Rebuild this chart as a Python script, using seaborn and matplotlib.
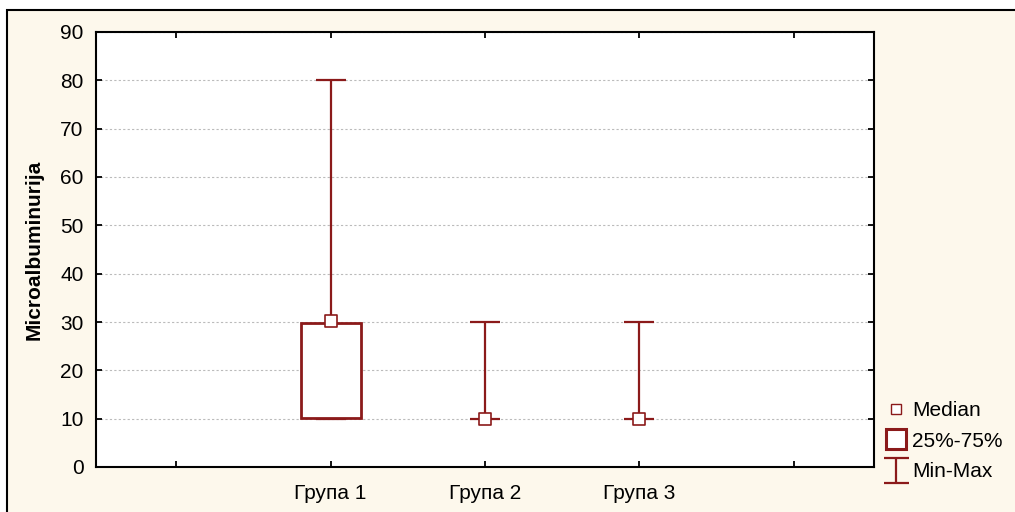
import matplotlib
matplotlib.use("Agg")
import matplotlib.pyplot as plt
import seaborn as sns
import pandas as pd
import numpy as np
from matplotlib.patches import Rectangle
from matplotlib.lines import Line2D
from matplotlib.path import Path

# ---- data ----
groups = ["Група 1", "Група 2", "Група 3"]
medians = [30.3, 10.0, 10.0]
q1 = [10.2, 10.0, 10.0]
q3 = [29.8, 10.0, 10.0]
mins = [10.0, 10.0, 10.0]
maxs = [80.0, 30.0, 30.0]
xtick_labels = ["", "Група 1", "Група 2", "Група 3", ""]
yticks = [0, 10, 20, 30, 40, 50, 60, 70, 80, 90]

RED = "#8B1A1A"
BG = "#FDF8EC"

sns.set_style("white")
plt.rcParams["font.family"] = ["Liberation Sans", "DejaVu Sans"]
plt.rcParams["text.color"] = "black"
plt.rcParams["xtick.color"] = "black"
plt.rcParams["ytick.color"] = "black"
plt.rcParams["axes.labelcolor"] = "black"

FS = 15

fig = plt.figure(figsize=(10.15, 5.12), dpi=100)
fig.patch.set_facecolor("white")
fig.patches.append(Rectangle((7 / 1015, -0.05), 1.1, (512 - 10) / 512 + 0.05,
                             transform=fig.transFigure, facecolor=BG,
                             edgecolor="black", linewidth=1.5, zorder=-10))

ax = fig.add_axes([96 / 1015, (512 - 467) / 512, (874 - 96) / 1015, (467 - 32) / 512])
ax.set_facecolor("white")

df = pd.DataFrame({"group": groups, "pos": [1, 2, 3], "median": medians,
                   "q1": q1, "q3": q3, "min": mins, "max": maxs})

box_w = 0.39
cap_w = 0.195
for _, r in df.iterrows():
    x = r["pos"]
    ax.vlines(x, r["min"], r["max"], color=RED, linewidth=1.6, zorder=3)
    ax.hlines([r["min"], r["max"]], x - cap_w / 2, x + cap_w / 2, color=RED, linewidth=1.6, zorder=3)
    if r["q3"] > r["q1"]:
        ax.add_patch(Rectangle((x - box_w / 2, r["q1"]), box_w, r["q3"] - r["q1"],
                               facecolor="white", edgecolor=RED, linewidth=2.0, zorder=4))

sns.scatterplot(data=df, x="pos", y="median", marker="s", s=80, color="white",
                edgecolor=RED, linewidth=1.2, zorder=5, ax=ax, legend=False)

ax.set_xlim(-0.52, 4.52)
ax.set_ylim(0, 90)
ax.set_xticks(range(5))
ax.set_xticklabels(xtick_labels, fontsize=FS)
ax.set_yticks(yticks)
ax.set_yticklabels([str(v) for v in yticks], fontsize=FS)
ax.set_xlabel("")
ax.set_ylabel("Microalbuminurija", fontsize=FS, fontweight="bold", labelpad=12)
ax.yaxis.grid(True, linestyle=(0, (2, 2)), color="#BBBBBB", linewidth=0.8)
ax.set_axisbelow(True)
for s in ax.spines.values():
    s.set_visible(True)
    s.set_color("black")
    s.set_linewidth(1.5)
ax.tick_params(direction="in", length=4, width=1.3, top=True, right=True,
               left=True, bottom=True, labeltop=False, labelright=False)
ax.tick_params(axis="y", pad=9)
ax.tick_params(axis="x", pad=12)

# legend
ibar = Path([(-1, 1), (1, 1), (0, 1), (0, -1), (-1, -1), (1, -1)],
            [Path.MOVETO, Path.LINETO, Path.MOVETO, Path.LINETO, Path.MOVETO, Path.LINETO])
handles = [
    Line2D([], [], marker="s", linestyle="none", markersize=7, markerfacecolor="white",
           markeredgecolor=RED, markeredgewidth=1.0),
    Line2D([], [], marker="s", linestyle="none", markersize=14, markerfacecolor="white",
           markeredgecolor=RED, markeredgewidth=2.2),
    Line2D([], [], marker=ibar, linestyle="none", markersize=18, markerfacecolor="none",
           markeredgecolor=RED, markeredgewidth=1.6),
]
fig.legend(handles, ["Median", "25%-75%", "Min-Max"], loc="upper left",
           bbox_to_anchor=(877 / 1015, (512 - 393) / 512), frameon=False, fontsize=FS,
           handlelength=1.0, handletextpad=0.3, labelspacing=0.55, borderaxespad=0)

fig.savefig("out.png", dpi=100, facecolor=fig.get_facecolor())
